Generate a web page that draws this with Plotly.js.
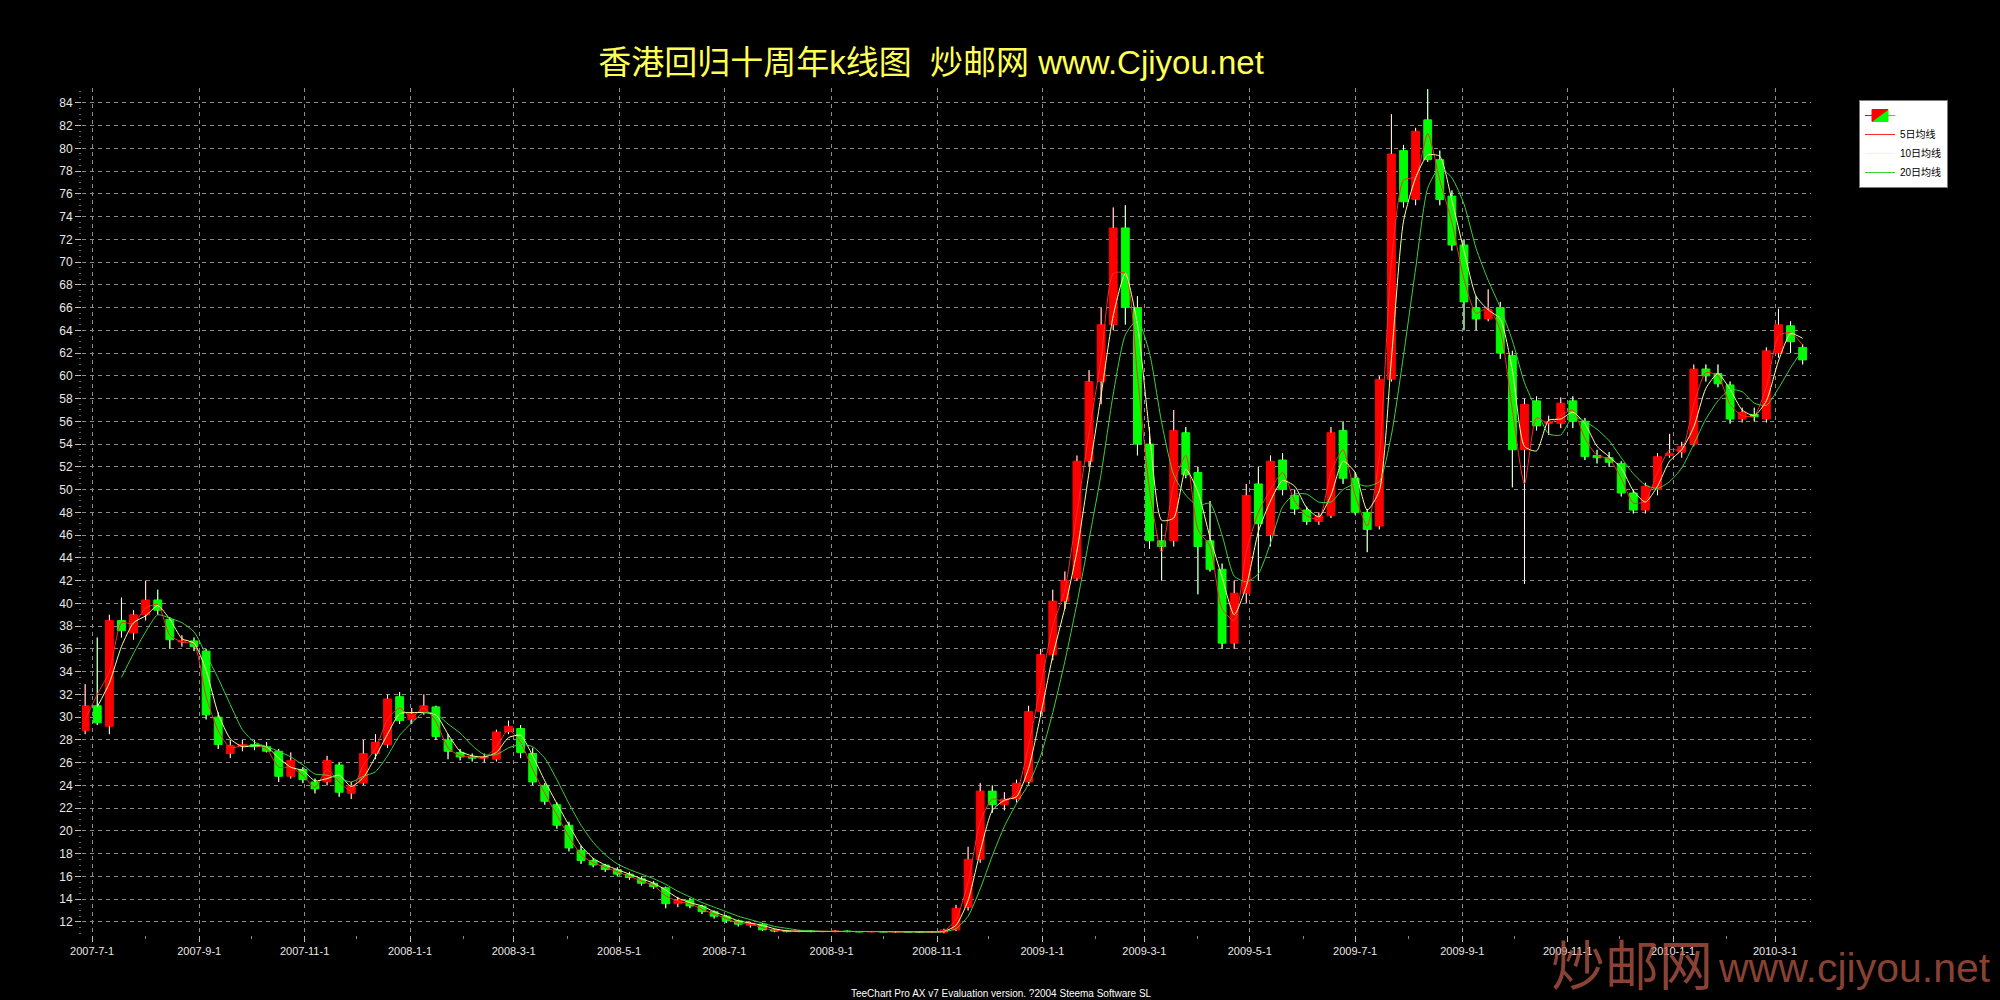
<!DOCTYPE html>
<html>
<head>
<meta charset="utf-8">
<script src="https://cdn.plot.ly/plotly-3.0.1.min.js"></script>
<style>
html,body{margin:0;padding:0;background:#000;}
#chart{width:2000px;height:1000px;}
</style>
</head>
<body>
<div id="chart"></div>
<script>
// ---- data (weekly candles, dated at mid-week) ----
const dates = [
'2007-06-27','2007-07-04','2007-07-11','2007-07-18','2007-07-25','2007-08-01','2007-08-08','2007-08-15','2007-08-22','2007-08-29',
'2007-09-05','2007-09-12','2007-09-19','2007-09-26','2007-10-03','2007-10-10','2007-10-17','2007-10-24','2007-10-31','2007-11-07',
'2007-11-14','2007-11-21','2007-11-28','2007-12-05','2007-12-12','2007-12-19','2007-12-26','2008-01-02','2008-01-09','2008-01-16',
'2008-01-23','2008-01-30','2008-02-06','2008-02-13','2008-02-20','2008-02-27','2008-03-05','2008-03-12','2008-03-19','2008-03-26',
'2008-04-02','2008-04-09','2008-04-16','2008-04-23','2008-04-30','2008-05-07','2008-05-14','2008-05-21','2008-05-28','2008-06-04',
'2008-06-11','2008-06-18','2008-06-25','2008-07-02','2008-07-09','2008-07-16','2008-07-23','2008-07-30','2008-08-06','2008-08-13',
'2008-08-20','2008-08-27','2008-09-03','2008-09-10','2008-09-17','2008-09-24','2008-10-01','2008-10-08','2008-10-15','2008-10-22',
'2008-10-29','2008-11-05','2008-11-12','2008-11-19','2008-11-26','2008-12-03','2008-12-10','2008-12-17','2008-12-24','2008-12-31',
'2009-01-07','2009-01-14','2009-01-21','2009-01-28','2009-02-04','2009-02-11','2009-02-18','2009-02-25','2009-03-04','2009-03-11',
'2009-03-18','2009-03-25','2009-04-01','2009-04-08','2009-04-15','2009-04-22','2009-04-29','2009-05-06','2009-05-13','2009-05-20',
'2009-05-27','2009-06-03','2009-06-10','2009-06-17','2009-06-24','2009-07-01','2009-07-08','2009-07-15','2009-07-22','2009-07-29',
'2009-08-05','2009-08-12','2009-08-19','2009-08-26','2009-09-02','2009-09-09','2009-09-16','2009-09-23','2009-09-30','2009-10-07',
'2009-10-14','2009-10-21','2009-10-28','2009-11-04','2009-11-11','2009-11-18','2009-11-25','2009-12-02','2009-12-09','2009-12-16',
'2009-12-23','2009-12-30','2010-01-06','2010-01-13','2010-01-20','2010-01-27','2010-02-03','2010-02-10','2010-02-17','2010-02-24',
'2010-03-03','2010-03-10','2010-03-17'];

const opens = [
28.8,31.0,29.2,38.5,37.4,39.0,40.3,38.6,36.6,36.7, 35.8,30.0,26.8,27.5,27.6,27.4,27.0,24.8,25.4,24.3,
24.3,25.8,23.3,24.2,26.8,27.6,31.8,29.8,30.4,30.9, 28.0,26.9,26.5,26.4,26.3,28.7,29.0,26.8,24.0,22.3,
20.5,18.3,17.4,17.0,16.6,16.2,15.8,15.4,15.0,13.6, 13.9,13.4,12.9,12.5,12.1,11.7,11.8,11.3,11.2,11.15,
11.2,11.15,11.15,11.2,11.15,11.13,11.15,11.12,11.15,11.12, 11.1,11.1,11.3,13.3,17.5,23.5,22.3,22.8,24.3,30.5,
35.5,40.2,42.2,52.5,59.5,64.5,73.0,66.0,54.0,45.5, 45.5,55.0,51.5,45.5,43.0,36.5,40.9,50.5,46.0,52.6,
49.5,48.2,47.2,47.7,55.2,51.0,48.0,46.8,59.7,79.8, 75.5,82.5,79.0,75.8,71.5,66.0,65.0,66.0,61.8,53.5,
57.8,55.8,55.8,57.8,56.0,53.0,52.8,52.3,49.7,48.2, 50.0,53.0,53.3,54.0,60.6,60.2,59.2,56.2,56.6,56.2,
62.0,64.4,62.5];

const highs = [
32.9,37.0,39.0,40.5,39.4,42.0,41.2,38.8,37.2,37.0, 36.0,30.4,28.0,28.0,28.0,27.8,27.2,26.9,25.6,24.6,
26.6,26.0,24.3,28.0,28.5,32.0,32.2,30.8,32.0,31.0, 28.5,27.2,26.8,26.8,28.9,29.7,29.3,27.3,24.2,22.5,
20.8,18.7,17.6,17.1,16.8,16.4,16.0,15.6,15.1,14.2, 14.1,13.5,13.0,12.6,12.2,12.0,11.9,11.35,11.3,11.25,
11.25,11.2,11.25,11.25,11.2,11.2,11.2,11.2,11.2,11.2, 11.2,11.4,13.5,18.6,24.2,24.0,23.4,24.5,31.0,36.0,
41.2,42.8,53.0,60.5,66.0,74.8,75.0,67.0,55.5,47.0, 57.0,55.5,52.0,49.0,43.5,42.0,50.5,52.0,53.0,53.2,
50.0,48.5,48.0,55.5,56.0,51.5,48.3,60.0,83.0,80.3, 81.8,85.2,79.8,76.3,72.0,67.0,67.6,66.5,62.2,58.0,
58.2,56.5,58.1,58.2,56.3,53.5,53.3,52.5,50.0,50.6, 53.2,54.9,54.2,61.0,61.0,61.0,59.5,57.2,57.2,62.5,
65.9,64.8,62.8];

const lows = [
28.5,29.3,28.5,37.0,36.8,38.5,39.0,36.0,36.2,35.8, 29.8,27.2,26.4,27.0,27.1,26.9,24.3,24.6,24.2,23.3,
24.0,23.0,22.8,24.0,26.3,27.3,29.4,29.4,30.2,28.0, 26.3,26.2,26.1,26.0,26.1,28.5,26.4,24.0,22.3,20.2,
18.2,17.1,16.8,16.4,16.0,15.7,15.2,14.9,13.2,13.3, 13.2,12.7,12.3,11.9,11.6,11.5,11.2,11.1,11.1,11.1,
11.1,11.1,11.1,11.1,11.1,11.1,11.1,11.05,11.1,11.05, 11.05,11.0,11.2,13.0,17.2,21.6,21.8,22.5,24.0,30.0,
35.0,39.5,42.0,52.0,57.5,64.0,64.5,53.0,44.8,42.0, 45.0,51.0,40.8,42.8,36.0,36.0,40.0,42.0,45.0,49.5,
47.8,46.9,46.9,47.5,50.5,47.8,44.5,46.5,59.5,74.8, 75.0,78.8,75.0,71.0,64.0,64.0,64.8,61.5,50.2,41.7,
55.2,54.8,55.4,55.4,52.6,52.3,52.0,49.4,47.9,47.9, 49.5,52.8,52.8,53.8,59.5,59.0,55.8,55.9,56.0,55.9,
61.6,62.0,61.0];

const closes = [
31.0,29.5,38.5,37.6,39.0,40.3,39.4,36.8,36.7,36.2, 30.2,27.6,27.5,27.6,27.4,27.0,24.8,26.2,24.5,23.7,
26.2,23.4,24.0,26.8,27.8,31.6,29.7,30.3,31.0,28.3, 27.0,26.5,26.4,26.5,28.7,29.2,26.9,24.3,22.6,20.5,
18.5,17.4,17.0,16.6,16.2,15.9,15.4,15.1,13.6,13.9, 13.4,12.9,12.5,12.1,11.8,11.9,11.3,11.2,11.15,11.2,
11.15,11.17,11.2,11.15,11.13,11.16,11.12,11.15,11.12,11.1, 11.15,11.3,13.2,17.5,23.5,22.3,22.8,24.2,30.5,35.5,
40.2,42.0,52.5,59.5,64.5,73.0,66.0,54.0,45.5,45.0, 55.2,51.3,45.0,43.0,36.5,40.9,49.5,47.0,52.5,50.0,
48.3,47.2,47.7,55.0,51.0,48.0,46.5,59.7,79.5,75.3, 81.5,79.0,75.5,71.5,66.5,65.0,65.8,62.0,53.5,57.5,
55.6,56.0,57.6,56.0,52.9,52.8,52.4,49.7,48.2,50.3, 52.9,53.2,53.8,60.6,60.0,59.3,56.2,56.8,56.4,62.2,
64.5,63.0,61.4];

// moving-average lines
const ma5 = [
29.8,32.0,34.0,38.3,38.2,39.6,39.9,37.2,36.6,36.4, 31.8,28.8,27.3,27.5,27.5,27.2,25.6,25.6,24.9,23.8,
25.4,24.3,23.5,25.8,27.2,29.8,30.8,30.0,30.8,29.6, 27.3,26.6,26.5,26.4,27.4,28.9,27.8,25.4,23.3,21.4,
19.5,17.9,17.2,16.8,16.4,16.0,15.6,15.2,14.3,13.8, 13.6,13.1,12.7,12.3,11.9,11.8,11.5,11.25,11.2,11.18,
11.17,11.15,11.16,11.16,11.15,11.15,11.14,11.13,11.13,11.12, 11.12,11.2,12.2,15.5,20.8,22.8,22.6,23.4,27.5,32.8,
38.0,41.2,48.0,55.0,61.5,69.0,69.0,60.0,50.0,44.5, 50.5,53.0,46.5,45.0,39.5,38.5,44.5,48.0,50.0,51.5,
49.0,47.7,47.4,51.5,53.5,49.5,46.8,53.0,70.0,77.2, 77.5,81.3,77.2,73.5,68.5,65.5,66.0,64.0,57.0,50.5,
56.3,55.8,56.5,57.0,54.5,53.0,52.7,51.0,48.8,49.0, 51.5,53.5,53.5,57.5,60.3,60.0,57.5,56.5,56.5,59.0,
63.5,63.8,62.7];

const ma10 = [
null,30.9,33.0,36.2,38.3,38.9,39.8,38.6,36.9,36.5, 34.1,30.3,28.1,27.4,27.5,27.4,26.4,25.6,25.3,24.4,
24.6,24.9,23.9,24.7,26.5,28.5,30.3,30.4,30.4,30.2, 28.5,27.0,26.6,26.5,26.9,28.2,28.4,26.6,24.4,22.4,
20.5,18.7,17.6,17.0,16.6,16.2,15.8,15.4,14.8,14.1, 13.7,13.4,12.9,12.5,12.1,11.9,11.7,11.4,11.22,11.19,
11.18,11.16,11.16,11.16,11.16,11.15,11.15,11.14,11.13,11.13, 11.12,11.16,11.7,13.9,18.2,21.8,22.7,23.0,25.5,30.2,
35.4,39.6,44.6,51.5,58.3,65.3,69.0,64.5,55.0,47.3, 47.5,51.8,49.8,45.8,42.3,39.0,41.5,46.3,49.0,50.8,
50.3,48.4,47.6,49.5,52.5,51.5,48.2,49.9,61.5,73.6, 77.4,79.4,79.3,75.4,71.0,67.0,65.8,65.0,60.5,53.8,
53.4,56.1,56.2,56.8,55.8,53.8,52.9,51.9,49.9,48.9, 50.3,52.5,53.5,55.5,58.9,60.2,58.8,57.0,56.5,57.8,
61.3,63.7,63.3];

const ma20 = [
null,null,null,33.5,35.6,37.5,39.0,38.7,38.3,37.5, 35.5,33.4,31.1,28.9,27.8,27.4,27.0,26.5,25.8,25.0,
24.9,24.6,24.3,24.8,25.2,26.6,28.4,29.5,30.4,30.3, 29.4,28.6,27.5,26.7,26.7,27.3,27.6,27.4,26.4,24.5,
22.4,20.5,19.0,17.9,17.1,16.6,16.2,15.8,15.3,14.7, 14.2,13.7,13.3,12.9,12.5,12.2,11.9,11.6,11.44,11.28,
11.2,11.18,11.17,11.16,11.16,11.16,11.15,11.14,11.14,11.13, 11.12,11.14,11.41,12.5,14.9,17.8,20.4,22.4,24.1,26.6,
30.4,34.9,40.0,45.6,51.4,58.4,63.6,64.9,62.0,55.9, 51.3,49.5,48.6,48.8,46.0,42.4,41.9,42.6,45.3,48.5,
49.6,49.6,48.9,48.9,50.0,50.5,50.3,50.7,54.8,61.8, 69.4,76.5,78.3,77.4,75.1,71.2,68.4,66.0,63.1,59.4,
57.0,54.9,54.8,56.4,56.0,55.3,54.3,52.8,51.4,50.4, 50.1,50.7,51.9,54.0,56.2,57.8,58.8,58.6,57.6,57.4,
58.9,60.7,62.3];

const seriesNames = ['', '5日均线', '10日均线', '20日均线'];
const xTickVals = ['2007-07-01','2007-09-01','2007-11-01','2008-01-01','2008-03-01','2008-05-01','2008-07-01',
  '2008-09-01','2008-11-01','2009-01-01','2009-03-01','2009-05-01','2009-07-01','2009-09-01','2009-11-01',
  '2010-01-01','2010-03-01'];
const xTickText = ['2007-7-1','2007-9-1','2007-11-1','2008-1-1','2008-3-1','2008-5-1','2008-7-1',
  '2008-9-1','2008-11-1','2009-1-1','2009-3-1','2009-5-1','2009-7-1','2009-9-1','2009-11-1',
  '2010-1-1','2010-3-1'];
const titleText = '香港回归十周年k线图  炒邮网 www.Cjiyou.net';
const footerText = 'TeeChart Pro AX v7 Evaluation version. ?2004 Steema Software SL';
const markCN = '炒邮网';
const markURL = 'www.cjiyou.net';

// ---- wick segments (upper and lower shadows) drawn in white ----
const wx = [], wy = [];
for (let i = 0; i < dates.length; i++) {
  const top = Math.max(opens[i], closes[i]), bot = Math.min(opens[i], closes[i]);
  wx.push(dates[i], dates[i], null, dates[i], dates[i], null);
  wy.push(highs[i], top, null, bot, lows[i], null);
}

const UP = '#ff0000', DOWN = '#00ff00';
const latin = 'Liberation Sans, Arial, Noto Sans CJK SC, sans-serif';

const traces = [
  {
    type: 'candlestick', name: seriesNames[0], x: dates,
    open: opens, high: highs, low: lows, close: closes,
    increasing: {line: {color: UP, width: 1}, fillcolor: UP},
    decreasing: {line: {color: DOWN, width: 1}, fillcolor: DOWN},
    whiskerwidth: 0, hoverinfo: 'skip', showlegend: true
  },
  {
    type: 'scatter', mode: 'lines', x: wx, y: wy, showlegend: false,
    line: {color: '#ffffff', width: 1}, hoverinfo: 'skip', connectgaps: false
  },
  {
    type: 'scatter', mode: 'lines', name: seriesNames[1], x: dates, y: ma5,
    line: {color: '#ff2a2a', width: 1, shape: 'spline', smoothing: 0.6}, hoverinfo: 'skip'
  },
  {
    type: 'scatter', mode: 'lines', name: seriesNames[2], x: dates, y: ma10,
    line: {color: '#ffff9a', width: 1, shape: 'spline', smoothing: 0.6}, hoverinfo: 'skip'
  },
  {
    type: 'scatter', mode: 'lines', name: seriesNames[3], x: dates, y: ma20,
    line: {color: '#3fcf3f', width: 1, shape: 'spline', smoothing: 0.6}, hoverinfo: 'skip'
  }
];

const L = 82, R = 189, T = 88, B = 65;
const PW = 2000 - L - R, PH = 1000 - T - B;
const px = v => (v - L) / PW;          // container px -> paper x
const py = v => (1000 - B - v) / PH;   // container px -> paper y

const layout = {
  width: 2000, height: 1000,
  margin: {l: L, r: R, t: T, b: B, pad: 0},
  paper_bgcolor: '#000000', plot_bgcolor: '#000000',
  boxgap: 0.35, boxgroupgap: 0,
  title: {
    text: titleText, xref: 'container', yref: 'container',
    x: 931 / 2000, y: 1 - 62 / 1000, xanchor: 'center', yanchor: 'middle',
    font: {family: latin, size: 33, color: '#ffff55'}
  },
  xaxis: {
    type: 'date',
    range: ['2007-06-25 04:00', '2010-03-21 20:00'],
    tickmode: 'array', tickvals: xTickVals, ticktext: xTickText,
    ticks: 'outside', ticklen: 6, tickcolor: '#bbbbbb',
    tickfont: {family: latin, size: 11, color: '#e8e8e8'},
    showgrid: true, gridcolor: '#8c8c8c', griddash: '4px,4px', gridwidth: 1,
    zeroline: false, showline: false,
    minor: {dtick: 'M1', ticks: 'outside', ticklen: 3, tickcolor: '#888888', showgrid: false},
    rangeslider: {visible: false}, fixedrange: true
  },
  yaxis: {
    range: [10.85, 85.3], dtick: 2, tick0: 0,
    ticks: 'outside', ticklen: 6, tickcolor: '#bbbbbb',
    tickfont: {family: latin, size: 12, color: '#e8e8e8'},
    showgrid: true, gridcolor: '#8c8c8c', griddash: '4px,4px', gridwidth: 1,
    zeroline: false, showline: false,
    minor: {dtick: 0.5, ticks: 'outside', ticklen: 2, tickcolor: '#666666', showgrid: false},
    fixedrange: true
  },
  showlegend: true,
  legend: {
    x: px(1859), y: py(100), xanchor: 'left', yanchor: 'top',
    bgcolor: '#ffffff', bordercolor: '#7a7a7a', borderwidth: 1,
    font: {family: latin, size: 10, color: '#000000'},
    itemwidth: 30, tracegroupgap: 0
  },
  annotations: [
    {
      text: footerText, xref: 'paper', yref: 'paper', x: px(1001), y: py(993),
      xanchor: 'center', yanchor: 'middle', showarrow: false,
      font: {family: latin, size: 10, color: '#ffffff'}
    },
    {
      text: markCN, xref: 'paper', yref: 'paper', x: px(1549), y: py(963),
      xanchor: 'left', yanchor: 'middle', showarrow: false,
      font: {family: 'Noto Sans CJK SC, sans-serif', size: 54, color: 'rgba(190,92,72,0.72)'}
    },
    {
      text: markURL, xref: 'paper', yref: 'paper', x: px(1716), y: py(968),
      xanchor: 'left', yanchor: 'middle', showarrow: false,
      font: {family: 'Liberation Sans, Arial, sans-serif', size: 41, color: 'rgba(190,92,72,0.72)'}
    }
  ]
};

Plotly.newPlot('chart', traces, layout, {staticPlot: true, displayModeBar: false});
</script>
</body>
</html>
